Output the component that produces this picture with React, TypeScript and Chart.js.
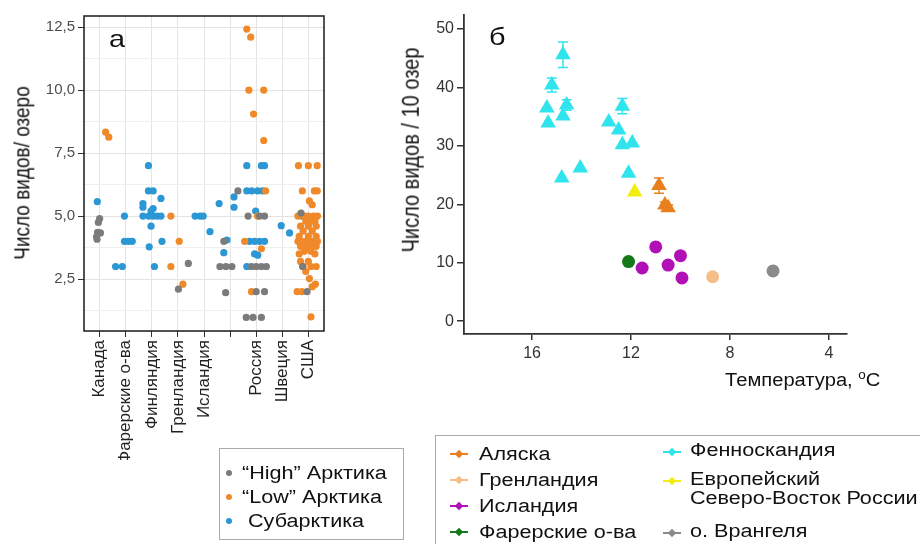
import React, { useEffect, useRef } from 'react';
import { Chart, registerables } from 'chart.js';
Chart.register(...registerables);

const FONT = '"Liberation Sans", Arial, sans-serif';

// ---------- Panel а ----------
const categoriesA = ['Канада', 'Фарерские о-ва', 'Финляндия', 'Гренландия', 'Исландия', '', 'Россия', 'Швеция', 'США'];
const catPosA = [1, 2, 3, 4, 5, 6, 7, 8, 9];
const yMajorA = [2.5, 5, 7.5, 10, 12.5];
const yMinorA = [1.25, 3.75, 6.25, 8.75, 11.25];

const highX = [1.0, 0.95, 0.92, 1.03, 0.88, 0.9, 4.02, 4.4, 5.76, 5.61, 5.84, 6.07, 5.83, 6.3, 6.69, 7.13, 7.32, 6.82, 7.0, 7.2, 7.39, 7.0, 7.32, 6.62, 6.88, 7.2, 8.72, 8.78, 8.95];
const highY = [4.9, 4.75, 4.35, 4.33, 4.18, 4.08, 2.1, 3.12, 4.0, 3.0, 3.0, 3.0, 1.96, 6.0, 5.0, 5.0, 5.0, 3.0, 3.0, 3.0, 3.0, 2.0, 2.0, 0.98, 0.98, 0.98, 5.12, 3.0, 2.0];

const lowX = [1.23, 1.35, 3.73, 4.05, 3.73, 4.19,
  6.64, 6.79, 6.72, 7.29, 6.9, 7.29, 7.36, 7.05, 6.56, 7.2, 6.82,
  8.62, 9.0, 9.34, 8.77, 9.23, 9.34, 9.04, 9.15, 8.6, 8.85, 9.0, 9.2, 9.35, 8.9, 9.1, 9.25, 8.7, 9.0, 9.3, 8.8, 9.15,
  8.65, 9.0, 9.3, 8.6, 8.75, 8.9, 9.05, 9.2, 9.35, 8.7, 8.95, 9.15, 9.3, 8.85, 9.1, 8.65, 9.25, 8.7, 9.0, 8.8, 9.1, 9.3,
  8.9, 9.04, 9.27, 9.15, 8.57, 8.75, 9.1];
const lowY = [8.33, 8.13, 5.0, 4.0, 3.0, 2.3,
  12.42, 12.1, 10.0, 10.0, 9.05, 8.0, 6.0, 5.0, 4.0, 3.7, 2.0,
  7, 7, 7, 6, 6, 6, 5.6, 5.45, 5, 5, 5, 5, 5, 4.8, 4.8, 4.8, 4.6, 4.6, 4.6, 4.4, 4.4,
  4.2, 4.2, 4.2, 4, 4, 4, 4, 4, 4, 3.8, 3.8, 3.8, 3.8, 3.6, 3.6, 3.5, 3.5, 3.2, 3.2, 3, 3, 3,
  2.8, 2.52, 2.3, 2.2, 2, 2, 1];

const subX = [0.91, 1.95, 1.95, 2.1, 2.25, 1.61, 1.87,
  2.87, 2.87, 3.05, 3.35, 2.66, 2.66, 3.05, 2.97, 2.66, 2.88, 3.05, 3.2, 3.35, 2.97, 3.39, 2.9, 3.1,
  4.66, 4.85, 4.97, 5.23, 5.58, 6.15, 6.15, 5.88, 5.76,
  6.64, 7.2, 7.32, 6.64, 6.83, 7.06, 7.25, 6.98, 6.75, 6.94, 7.13, 7.32, 6.94, 7.06, 6.64,
  7.96, 8.28, 8.75];
const subY = [5.57, 5.0, 4.0, 4.0, 4.0, 3.0, 3.0,
  7.0, 6.0, 6.0, 5.7, 5.5, 5.35, 5.3, 5.2, 5.0, 5.0, 5.0, 5.0, 5.0, 4.6, 4.0, 3.78, 3.0,
  5.0, 5.0, 5.0, 4.38, 5.5, 5.76, 5.35, 4.05, 3.55,
  7.0, 7.0, 7.0, 6.0, 6.0, 6.0, 6.0, 5.2, 4.0, 4.0, 4.0, 4.0, 3.5, 3.45, 3.0,
  4.62, 4.33, 5.0];

const legendA = ['“High” Арктика', '“Low” Арктика', ' Субарктика'];
const colorsA = ['#7b7b7b', '#f0892a', '#2b97d4'];

// ---------- Panel б ----------
const tempFenno = [14.75, 15.2, 15.4, 15.35, 14.6, 14.75, 14.8, 14.05, 12.9, 12.5, 12.35, 12.35, 11.95, 12.1];
const richFenno = [45.6, 40.4, 36.5, 33.9, 37.0, 35.1, 24.5, 26.2, 34.1, 32.7, 36.8, 30.2, 30.5, 25.3];
const errFenno = [2.2, 1.2, 0, 0, 0.9, 0, 0, 0, 0, 0, 1.3, 0, 0, 0];
const tempAlaska = [10.87, 10.63, 10.5];
const richAlaska = [23.2, 19.9, 19.4];
const errAlaska = [1.3, 0.5, 0.5];
const tempEuroRus = [11.85];
const richEuroRus = [22.1];
const tempIceland = [11.0, 11.55, 10.5, 10.0, 9.94];
const richIceland = [12.7, 9.1, 9.6, 11.2, 7.4];
const tempFaroe = [12.1];
const richFaroe = [10.2];
const tempGreenland = [8.7];
const richGreenland = [7.6];
const tempWrangel = [6.26];
const richWrangel = [8.6];
const xTicksB = [16, 12, 8, 4];
const yTicksB = [0, 10, 20, 30, 40, 50];

const legendB1 = ['Аляска', 'Гренландия', 'Исландия', 'Фарерские о-ва'];
const legendB1Colors = ['#e8801e', '#f5bd88', '#b010b5', '#16781a'];
const legendB2 = ['Фенноскандия', 'Европейский\nСеверо-Восток России', 'о. Врангеля'];
const legendB2Colors = ['#30e4ee', '#f2ef10', '#8a8a8a'];

const pts = (xs: number[], ys: number[]) => xs.map((x, i) => ({ x, y: ys[i] }));

const boxPlugin = {
  id: 'boxA',
  afterDraw(chart: any) {
    const { ctx, chartArea: a } = chart;
    ctx.save();
    ctx.strokeStyle = '#1a1a1a';
    ctx.lineWidth = 1.5;
    ctx.strokeRect(a.left, a.top, a.right - a.left, a.bottom - a.top);
    ctx.restore();
  },
};

const errPlugin = {
  id: 'errB',
  beforeDatasetsDraw(chart: any) {
    const { ctx } = chart;
    const xs = chart.scales.x;
    const ys = chart.scales.y;
    chart.data.datasets.forEach((ds: any) => {
      if (!ds.errors) return;
      ctx.save();
      ctx.strokeStyle = ds.borderColor;
      ctx.lineWidth = 1.5;
      ds.data.forEach((p: any, i: number) => {
        const e = ds.errors[i];
        if (!e) return;
        const px = xs.getPixelForValue(p.x);
        const t = ys.getPixelForValue(p.y + e);
        const b = ys.getPixelForValue(p.y - e);
        ctx.beginPath();
        ctx.moveTo(px, t); ctx.lineTo(px, b);
        ctx.moveTo(px - 5, t); ctx.lineTo(px + 5, t);
        ctx.moveTo(px - 5, b); ctx.lineTo(px + 5, b);
        ctx.stroke();
      });
      ctx.restore();
    });
  },
};

const fmtComma = (v: number) => v.toFixed(1).replace('.', ',');

export default function App() {
  const refA = useRef<HTMLCanvasElement>(null);
  const refB = useRef<HTMLCanvasElement>(null);

  useEffect(() => {
    document.body.style.margin = '0';
    const dsA = (label: string, xs: number[], ys: number[], color: string) => ({
      label, data: pts(xs, ys), backgroundColor: color, borderColor: color,
      pointRadius: 3.6, pointBorderWidth: 0, pointHoverRadius: 3.6,
    });
    const chartA = new Chart(refA.current!, {
      type: 'scatter',
      data: {
        datasets: [
          dsA(legendA[0], highX, highY, colorsA[0]),
          dsA(legendA[1], lowX, lowY, colorsA[1]),
          dsA(legendA[2], subX, subY, colorsA[2]),
        ],
      },
      options: {
        responsive: false,
        animation: false,
        layout: { padding: { top: 16, right: 16, left: 0, bottom: 0 } },
        plugins: { legend: { display: false }, tooltip: { enabled: false } },
        scales: {
          x: {
            type: 'linear', min: 0.4, max: 9.6,
            afterBuildTicks: (s: any) => { s.ticks = catPosA.map((v) => ({ value: v })); },
            afterFit: (s: any) => { s.height = 129; },
            ticks: {
              autoSkip: false, minRotation: 90, maxRotation: 90, padding: 3,
              color: '#222', font: { family: FONT, size: 17 },
              callback: (_v: any, i: number) => categoriesA[i],
            },
            grid: { color: '#e4e4e4', lineWidth: 1, tickLength: 6, tickColor: '#333' },
            border: { display: false },
          },
          y: {
            type: 'linear', min: 0.44, max: 12.94,
            afterBuildTicks: (s: any) => {
              s.ticks = [...yMinorA, ...yMajorA].sort((a, b) => a - b).map((v) => ({ value: v }));
            },
            afterFit: (s: any) => { s.width = 84; },
            ticks: {
              padding: 3, color: '#4d4d4d', font: { family: FONT, size: 15 },
              callback: (v: any) => (yMajorA.includes(v) ? fmtComma(v) : ''),
            },
            grid: {
              color: (c: any) => (c.tick && yMajorA.includes(c.tick.value) ? '#e2e2e2' : '#efefef'),
              tickColor: (c: any) => (c.tick && yMajorA.includes(c.tick.value) ? '#333' : 'rgba(0,0,0,0)'),
              tickLength: 6,
            },
            border: { display: false },
          },
        },
      },
      plugins: [boxPlugin],
    } as any);

    const tri = (label: string, xs: number[], ys: number[], color: string, errors?: number[]) => ({
      label, data: pts(xs, ys), backgroundColor: color, borderColor: color,
      pointStyle: 'triangle', pointRadius: 9, pointHoverRadius: 9, pointBorderWidth: 0, errors,
    });
    const dot = (label: string, xs: number[], ys: number[], color: string) => ({
      label, data: pts(xs, ys), backgroundColor: color, borderColor: color,
      pointStyle: 'circle', pointRadius: 6.5, pointHoverRadius: 6.5, pointBorderWidth: 0,
    });
    const chartB = new Chart(refB.current!, {
      type: 'scatter',
      data: {
        datasets: [
          tri('Фенноскандия', tempFenno, richFenno, legendB2Colors[0], errFenno),
          tri('Европейский Северо-Восток России', tempEuroRus, richEuroRus, legendB2Colors[1]),
          tri('Аляска', tempAlaska, richAlaska, legendB1Colors[0], errAlaska),
          dot('Исландия', tempIceland, richIceland, legendB1Colors[2]),
          dot('Фарерские о-ва', tempFaroe, richFaroe, legendB1Colors[3]),
          dot('Гренландия', tempGreenland, richGreenland, legendB1Colors[1]),
          dot('о. Врангеля', tempWrangel, richWrangel, legendB2Colors[2]),
        ],
      },
      options: {
        responsive: false,
        animation: false,
        layout: { padding: { top: 15, right: 73, left: 0, bottom: 0 } },
        plugins: { legend: { display: false }, tooltip: { enabled: false } },
        scales: {
          x: {
            type: 'linear', reverse: true, min: 3.27, max: 18.75,
            afterBuildTicks: (s: any) => { s.ticks = xTicksB.map((v) => ({ value: v })); },
            afterFit: (s: any) => { s.height = 66; },
            ticks: { padding: 4, color: '#333', font: { family: FONT, size: 16 } },
            grid: { drawOnChartArea: false, tickLength: 6, tickColor: '#333', lineWidth: 1.5 },
            border: { display: true, color: '#333', width: 1.8 },
          },
          y: {
            type: 'linear', min: -2.2, max: 52.4,
            afterBuildTicks: (s: any) => { s.ticks = yTicksB.map((v) => ({ value: v })); },
            afterFit: (s: any) => { s.width = 74; },
            ticks: { padding: 3, color: '#333', font: { family: FONT, size: 16 } },
            grid: { drawOnChartArea: false, tickLength: 7, tickColor: '#333', lineWidth: 1.5 },
            border: { display: true, color: '#333', width: 1.8 },
          },
        },
      },
      plugins: [errPlugin],
    } as any);

    return () => { chartA.destroy(); chartB.destroy(); };
  }, []);

  const SX = 'scaleX(1.2)';
  const txt: React.CSSProperties = { position: 'absolute', fontFamily: FONT, color: '#111', whiteSpace: 'pre' };
  const wide: React.CSSProperties = { ...txt, transform: SX, transformOrigin: '0 50%' };
  const rot = (cx: number, cy: number, size: number): React.CSSProperties => ({
    ...txt, left: cx, top: cy, fontSize: size, transform: 'translate(-50%, -50%) rotate(-90deg) scaleY(1.15)',
  });

  return (
    <div style={{ position: 'fixed', left: 0, top: 0, width: 920, height: 544, background: '#fff', overflow: 'hidden', fontFamily: FONT }}>
      <canvas ref={refA} width={340} height={460} style={{ position: 'absolute', left: 0, top: 0, width: 340, height: 460 }} />
      <canvas ref={refB} width={530} height={400} style={{ position: 'absolute', left: 390, top: 0, width: 530, height: 400 }} />

      <div style={{ ...wide, left: 109, top: 25, fontSize: 24 }}>а</div>
      <div style={{ ...wide, left: 489, top: 23, fontSize: 24 }}>б</div>
      <div style={rot(22, 173, 19)}>Число видов/ озеро</div>
      <div style={rot(411, 150, 20)}>Число видов / 10 озер</div>
      <div style={{ ...wide, transform: 'scaleX(1.12)', left: 725, top: 368, fontSize: 18 }}>
        Температура, <sup style={{ fontSize: 12 }}>o</sup>C
      </div>

      <div style={{ position: 'absolute', left: 219, top: 448, width: 185, height: 92, border: '1px solid #aaa', boxSizing: 'border-box' }}>
        {legendA.map((l, i) => (
          <div key={l} style={{ position: 'absolute', left: 0, top: 13 + i * 24, height: 22, width: 185 }}>
            <span style={{ position: 'absolute', left: 6, top: 8, width: 6, height: 6, borderRadius: 3, background: colorsA[i] }} />
            <span style={{ ...wide, left: 22, top: 0, fontSize: 18, lineHeight: '22px' }}>{l}</span>
          </div>
        ))}
      </div>

      <div style={{ position: 'absolute', left: 435, top: 435, width: 500, height: 130, border: '1px solid #aaa', boxSizing: 'border-box' }}>
        {legendB1.map((l, i) => (
          <div key={l} style={{ position: 'absolute', left: 0, top: 7 + i * 26, height: 22, width: 220 }}>
            <span style={{ position: 'absolute', left: 14, top: 10, width: 18, height: 2, background: legendB1Colors[i] }} />
            <span style={{ position: 'absolute', left: 20, top: 8, width: 6, height: 6, transform: 'rotate(45deg)', background: legendB1Colors[i] }} />
            <span style={{ ...wide, left: 43, top: 0, fontSize: 18, lineHeight: '22px' }}>{l}</span>
          </div>
        ))}
        {legendB2.map((l, i) => (
          <div key={l} style={{ position: 'absolute', left: 225, top: [5, 34, 86][i], height: 22, width: 260 }}>
            <span style={{ position: 'absolute', left: 2, top: 10, width: 18, height: 2, background: legendB2Colors[i] }} />
            <span style={{ position: 'absolute', left: 8, top: 8, width: 6, height: 6, transform: 'rotate(45deg)', background: legendB2Colors[i] }} />
            <span style={{ ...wide, left: 29, top: 0, fontSize: 18, lineHeight: '19px', transformOrigin: '0 0' }}>{l}</span>
          </div>
        ))}
      </div>
    </div>
  );
}
